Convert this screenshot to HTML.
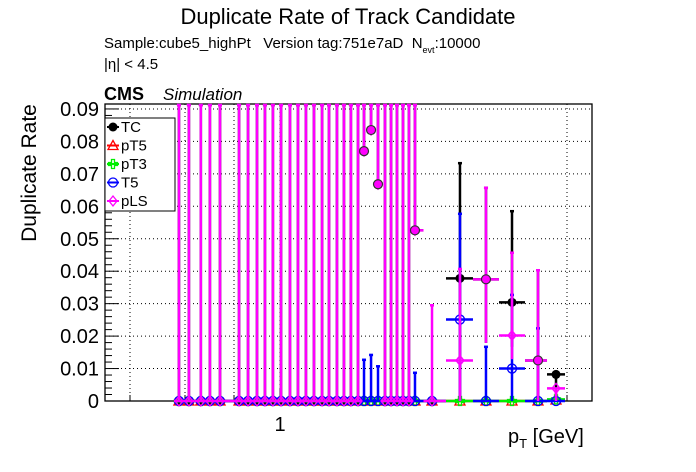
<!DOCTYPE html>
<html><head><meta charset="utf-8">
<style>
body{margin:0;background:#fff;}
svg{display:block;font-family:"Liberation Sans",sans-serif;}
.pre{white-space:pre;}
</style></head>
<body>
<svg id="chart" width="696" height="472" viewBox="0 0 696 472" xmlns="http://www.w3.org/2000/svg">
<text x="348" y="24" font-size="22" text-anchor="middle">Duplicate Rate of Track Candidate</text>
<text class="pre" x="104" y="48" font-size="15" xml:space="preserve">Sample:cube5_highPt   Version tag:751e7aD  N<tspan font-size="9" dy="5">evt</tspan><tspan dy="-5">:10000</tspan></text>
<text x="104" y="69" font-size="15">|η| &lt; 4.5</text>
<text x="104" y="100" font-size="18" font-weight="bold">CMS</text>
<text x="163" y="100" font-size="17" font-style="italic">Simulation</text>
<text transform="translate(36,173) rotate(-90)" font-size="21" text-anchor="middle">Duplicate Rate</text>
<text x="508" y="443" font-size="20">p<tspan font-size="13" dy="5">T</tspan><tspan dy="-5"> [GeV]</tspan></text>
<g id="grid"></g><g id="axes"></g><g id="marks"></g><g id="legend"></g>
</svg>
<script>
const ptBins = [0.559,0.592,0.634,0.668,0.708,0.790,0.832,0.876,0.917,0.960,1.006,1.059,1.109,1.161,1.216,1.274,1.326,1.388,1.445,1.504,1.567,1.622,1.689,1.758,1.830,1.895,1.961,2.030,2.101,2.175,2.399,2.818,3.273,3.802,4.416,4.898];
const yTicks = [0,0.01,0.02,0.03,0.04,0.05,0.06,0.07,0.08,0.09];
const yTickLabels = ["0","0.01","0.02","0.03","0.04","0.05","0.06","0.07","0.08","0.09"];
const xTickVals = [1];
const xTickLabels = ["1"];
const N = 36;
function fill(v){return new Array(30).fill(v);}
const tcVals  = [0,0,0,0,0,0,0,0,0,0,0,0,0,0,0,0,0,0,0,0,0,0.0770,0.0835,0.0668,0,0,0,0,0,0.0526,0,0.0378,0.0375,0.0304,0.0125,0.0082];
const tcUp    = fill(1).concat([0,0.0736,0.066,0.0588,0.0406,0.0082]);
const tcDown  = fill(0).concat([0,0.0378,0.0196,0.0137,0.0125,0.0082]);
const pT5Vals = fill(0).concat([0,0,0,0,0,0.0003]);
const pT5Up   = fill(0).concat([0,0,0,0,0,0.0003]);
const pT3Vals = fill(0).concat([0,0,0,0,0,0.0005]);
const pT3Up   = fill(0).concat([0,0,0,0,0,0.0005]);
const t5Vals  = fill(0).concat([0,0.0251,0,0.0100,0,0]);
const t5Up    = [0,0,0,0,0,0,0,0,0,0,0,0,0,0,0,0,0,0,0,0,0,0.013,0.0145,0.011,0,0,0,0,0,0.009,0,0.058,0.017,0.033,0.0227,0];
const plsVals = [0,0,0,0,0,0,0,0,0,0,0,0,0,0,0,0,0,0,0,0,0,0.0770,0.0835,0.0668,0,0,0,0,0,0.0526,0,0.0125,0.0375,0.0202,0.0125,0.0039];
const plsUp   = fill(1).concat([0.0298,0.041,0.066,0.046,0.0406,0.0039]);
const plsDown = fill(0).concat([0,0.0125,0.0196,0.0073,0.0125,0.0039]);

const X0=105,X1=592,Y0=401,Y1=104;
function xs(v){return 280+400*Math.log10(v);}
function ys(v){return Math.max(Y1, Y0-v*3245);}
const NS="http://www.w3.org/2000/svg";
function mk(p,tag,a){const e=document.createElementNS(NS,tag);for(const k in a)e.setAttribute(k,a[k]);p.appendChild(e);return e;}
const grid=document.getElementById('grid'),axes=document.getElementById('axes'),marks=document.getElementById('marks'),leg=document.getElementById('legend');
yTicks.forEach((t,i)=>{if(t===0)return;const l=mk(grid,'line',{x1:X0,x2:X1,y1:ys(t),y2:ys(t),stroke:'#000','stroke-dasharray':'1,3','stroke-width':1});
});
[130,185,234,280,567].forEach(x=>{const l=mk(grid,'line',{x1:x,x2:x,y1:Y1,y2:Y0,stroke:'#000','stroke-dasharray':'1,3','stroke-width':1});
});
const fr=mk(axes,'rect',{x:X0,y:Y1,width:X1-X0,height:Y0-Y1,fill:'none',stroke:'#000','stroke-width':1.3});

yTicks.forEach((t,i)=>{
 const tk=mk(axes,'line',{x1:X0,x2:X0+14,y1:ys(t),y2:ys(t),stroke:'#000'});
 
 for(let m=1;m<5&&t<0.09;m++){const mt=mk(axes,'line',{x1:X0,x2:X0+7,y1:ys(t+m*0.002),y2:ys(t+m*0.002),stroke:'#000'});
 }
 const tx=mk(axes,'text',{x:99,y:ys(t)+7,'font-size':20,'text-anchor':'end'});tx.textContent=yTickLabels[i];
 
});
xTickVals.forEach((v,i)=>{const tx=mk(axes,'text',{x:xs(v),y:431,'font-size':20,'text-anchor':'middle'});tx.textContent=xTickLabels[i];
 
 const tk=mk(axes,'line',{x1:xs(v),x2:xs(v),y1:Y0,y2:Y0-12,stroke:'#000'});});
[130,185,234,567].forEach(x=>{const tk=mk(axes,'line',{x1:x,x2:x,y1:Y0,y2:Y0-6,stroke:'#000'});});

function halfW(i){const a=i>0?xs(ptBins[i-1]):xs(ptBins[i])-(xs(ptBins[i+1])-xs(ptBins[i]));const b=i<N-1?xs(ptBins[i+1]):xs(ptBins[i])+(xs(ptBins[i])-xs(ptBins[i-1]));return [(xs(ptBins[i])-a)/2,(b-xs(ptBins[i]))/2];}
function marker(g,type,cx,cy,col){
 let e;
 if(type==='tc'){e=mk(g,'circle',{cx,cy,r:4.5,fill:col});}
 else if(type==='pt5'){e=mk(g,'polygon',{points:`${cx},${cy-5} ${cx-5},${cy+4} ${cx+5},${cy+4}`,fill:'none',stroke:col,'stroke-width':1.3});}
 else if(type==='pt3'){e=mk(g,'path',{d:`M${cx-1.5},${cy-4.5}h3v3h3v3h-3v3h-3v-3h-3v-3h3z`,fill:'none',stroke:col,'stroke-width':1.3});}
 else if(type==='t5'){e=mk(g,'circle',{cx,cy,r:4.5,fill:'none',stroke:col,'stroke-width':1.3});}
 else {e=mk(g,'path',{d:`M${cx},${cy-5}L${cx+4},${cy}L${cx},${cy+5}L${cx-4},${cy}Z M${cx-4},${cy}H${cx+4}`,fill:'none',stroke:col,'stroke-width':1.3});}
 return e;
}
function series(name,type,col,vals,up,down){
 const g=mk(marks,'g',{});
 for(let i=0;i<N;i++){
  const v=vals[i];if(v===undefined)continue;
  const cx=xs(ptBins[i]),cy=ys(v);
  const hw=halfW(i);
  const h=mk(g,'line',{x1:cx-hw[0],x2:cx+hw[1],y1:cy,y2:cy,stroke:col,'stroke-width':2.5});
  
  const hiV=(up?up[i]:v)||v, loV=down?down[i]:v;
  if(hiV>v){const hy=ys(hiV);const l=mk(g,'line',{x1:cx,x2:cx,y1:cy,y2:hy,stroke:col,'stroke-width':2.5});
   
   const c=mk(g,'line',{x1:cx-2,x2:cx+2,y1:hy+1,y2:hy+1,stroke:col,'stroke-width':2.5});}
  if(loV>0){const ly=ys(v-loV);const l=mk(g,'line',{x1:cx,x2:cx,y1:cy,y2:ly,stroke:col,'stroke-width':2.5});
   }
  const m=marker(g,type,cx,cy,col);
 }
}
series('tc','tc','#000',tcVals,tcUp,tcDown);
series('pt5','pt5','#ff0000',pT5Vals,pT5Up,null);
series('pt3','pt3','#00ee00',pT3Vals,pT3Up,null);
series('t5','t5','#0000ff',t5Vals,t5Up,null);
series('pls','pls','#ff00ff',plsVals,plsUp,plsDown);
(function(){const g=mk(marks,'g',{});
 for(let i=0;i<N;i++){if(tcVals[i]>0&&Math.abs(tcVals[i]-plsVals[i])<1e-4){const c=mk(g,'circle',{cx:xs(ptBins[i]),cy:ys(tcVals[i]),r:4.5,fill:'#ff00ff',stroke:'#333','stroke-width':1.2});
 }}})();
const lb=mk(leg,'rect',{x:105,y:118,width:70,height:93,fill:'#fff',stroke:'#000'});

const legNames=['TC','pT5','pT3','T5','pLS'],legTypes=['tc','pt5','pt3','t5','pls'],legCols=['#000','#ff0000','#00ee00','#0000ff','#ff00ff'];
legNames.forEach((n,i)=>{const y=127+i*18.5;const g=mk(leg,'g',{});
 mk(g,'line',{x1:107,x2:119,y1:y,y2:y,stroke:legCols[i],'stroke-width':2});
 marker(g,legTypes[i],113,y,legCols[i]);
 const t=mk(g,'text',{x:121,y:y+5,'font-size':15});t.textContent=n;});
</script>
</body></html>
